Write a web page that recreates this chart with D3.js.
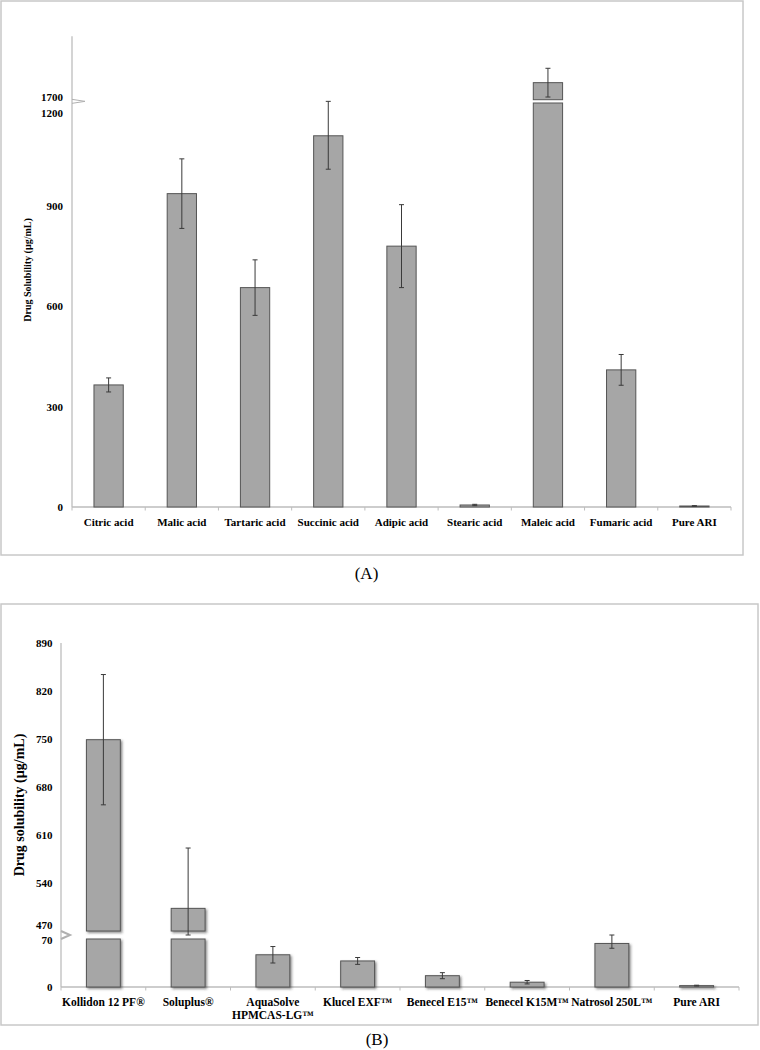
<!DOCTYPE html>
<html>
<head>
<meta charset="utf-8">
<script src="https://cdn.jsdelivr.net/npm/d3@7"></script>
<style>
  body { margin: 0; background: #fff; }
  svg { display: block; }
  text { font-family: "Liberation Serif", "Times New Roman", serif; }
</style>
</head>
<body>
<svg id="chart" width="760" height="1050"></svg>
<script>
// ---------- Data: panel A ----------
const categoriesA = ["Citric acid", "Malic acid", "Tartaric acid", "Succinic acid", "Adipic acid", "Stearic acid", "Maleic acid", "Fumaric acid", "Pure ARI"];
const valuesA = [365, 937, 656, 1110, 780, 6, 1741, 410, 3];
const errorsA = [21, 104, 83, 100, 124, 2, 43, 46, 1];
const tickLabelsA = [0, 300, 600, 900, 1200, 1700];

// ---------- Data: panel B ----------
const categoriesB = ["Kollidon 12 PF®", "Soluplus®", "AquaSolve\nHPMCAS-LG™", "Klucel EXF™", "Benecel E15™", "Benecel K15M™", "Natrosol 250L™", "Pure ARI"];
const valuesB = [749, 503, 47, 38, 16.5, 7, 63.5, 2];
const errorsB = [95, 88, 12, 5, 4.4, 2.5, 7, 0.6];
const tickLabelsB = [0, 70, 470, 540, 610, 680, 750, 820, 890];

const svg = d3.select("#chart");

const defs = svg.append("defs");
const f = defs.append("filter").attr("id", "shadow").attr("x", "-20%").attr("y", "-20%").attr("width", "150%").attr("height", "150%");
f.append("feDropShadow").attr("dx", 1.5).attr("dy", 1.5).attr("stdDeviation", 1)
  .attr("flood-color", "#333").attr("flood-opacity", 0.55);

function drawPanel(cfg) {
  const g = svg.append("g");
  // frame
  g.append("rect").attr("x", cfg.frame[0]).attr("y", cfg.frame[1])
    .attr("width", cfg.frame[2]).attr("height", cfg.frame[3])
    .attr("fill", "#fff").attr("stroke", "#c8c8c8").attr("stroke-width", 1.5);

  const x = d3.scaleBand().domain(cfg.cats).range(cfg.xRange).paddingInner(0).paddingOuter(0);
  const bw = x.bandwidth() * cfg.barRatio;
  const yLow = d3.scaleLinear().domain(cfg.lowDomain).range(cfg.lowRange);
  const yUp = d3.scaleLinear().domain(cfg.upDomain).range(cfg.upRange);
  const lowMax = cfg.lowDomain[1], upMin = cfg.upDomain[0];
  const breakMid = (cfg.lowRange[1] + cfg.upRange[0]) / 2;
  const yOf = v => v <= lowMax ? yLow(v) : (v >= upMin ? yUp(v) : breakMid);

  const x0 = cfg.xRange[0], x1 = cfg.xRange[1];
  const base = yLow(0);

  // y axis line
  g.append("line").attr("x1", x0).attr("x2", x0).attr("y1", base).attr("y2", yUp(cfg.upDomain[1]))
    .attr("stroke", "#bdbdbd").attr("stroke-width", 1.3);
  // break mark
  g.append("path").attr("d", cfg.breakPath(x0, breakMid))
    .attr("fill", "none").attr("stroke", "#b0b0b0").attr("stroke-width", cfg.breakWidth);

  // x axis line + boundary ticks
  g.append("line").attr("x1", x0).attr("x2", x1).attr("y1", base).attr("y2", base)
    .attr("stroke", "#bdbdbd").attr("stroke-width", 1.3);
  const bounds = cfg.cats.map(c => x(c)).concat([x1]);
  g.selectAll(".bt").data(bounds).join("line")
    .attr("x1", d => d).attr("x2", d => d).attr("y1", base).attr("y2", base + 3.5)
    .attr("stroke", "#bdbdbd").attr("stroke-width", 1);

  // bars
  const barG = g.append("g").attr("filter", cfg.shadow ? "url(#shadow)" : null);
  cfg.vals.forEach((v, i) => {
    const cx = x(cfg.cats[i]) + x.bandwidth() / 2;
    const segs = v <= lowMax ? [[yLow(v), base]] : [[yLow(lowMax), base], [yUp(v), yUp(upMin)]];
    segs.forEach(s => {
      barG.append("rect").attr("x", cx - bw / 2).attr("y", s[0]).attr("width", bw)
        .attr("height", Math.max(0.8, s[1] - s[0]))
        .attr("fill", "#a6a6a6").attr("stroke", "#555").attr("stroke-width", 1);
    });
  });

  // error bars
  cfg.vals.forEach((v, i) => {
    const cx = x(cfg.cats[i]) + x.bandwidth() / 2;
    const e = cfg.errs[i];
    const yt = yOf(v + e), yb = yOf(v - e);
    const eg = g.append("g").attr("stroke", "#3a3a3a").attr("stroke-width", 1);
    eg.append("line").attr("x1", cx).attr("x2", cx).attr("y1", yt).attr("y2", yb);
    eg.append("line").attr("x1", cx - 2.5).attr("x2", cx + 2.5).attr("y1", yt).attr("y2", yt);
    eg.append("line").attr("x1", cx - 2.5).attr("x2", cx + 2.5).attr("y1", yb).attr("y2", yb);
  });

  // y tick labels
  const yt = g.append("g");
  cfg.ticks.forEach(t => {
    const y = (t <= lowMax ? yLow(t) : yUp(t)) + (cfg.labelShift[t] || 0);
    yt.append("text").attr("x", x0 - cfg.tickGap).attr("y", y).attr("dy", "0.35em")
      .attr("text-anchor", "end").attr("font-weight", "bold").attr("font-size", cfg.tickFont)
      .attr("fill", "#000").text(t);
  });

  // x labels
  cfg.cats.forEach(c => {
    const cx = x(c) + x.bandwidth() / 2;
    const lines = c.split("\n");
    const t = g.append("text").attr("x", cx).attr("y", base + cfg.labelOffset)
      .attr("text-anchor", "middle").attr("font-weight", "bold").attr("font-size", cfg.labelFont).attr("fill", "#000");
    lines.forEach((ln, k) => {
      t.append("tspan").attr("x", cx).attr("dy", k === 0 ? 0 : cfg.lineHeight).text(ln);
    });
  });

  // y title
  g.append("text").attr("transform", `translate(${cfg.titlePos[0]},${cfg.titlePos[1]}) rotate(-90)`)
    .attr("text-anchor", "middle").attr("dy", "0.35em").attr("font-weight", "bold")
    .attr("font-size", cfg.titleFont).attr("fill", "#000").text(cfg.title);

  // panel letter
  svg.append("text").attr("x", cfg.letterPos[0]).attr("y", cfg.letterPos[1]).attr("dy", "0.35em")
    .attr("text-anchor", "middle").attr("font-size", 17).attr("fill", "#000").text(cfg.letter);
}

drawPanel({
  frame: [1, 1, 742, 554],
  cats: categoriesA, vals: valuesA, errs: errorsA, ticks: tickLabelsA,
  xRange: [72, 731], barRatio: 0.4,
  lowDomain: [0, 1208], lowRange: [507, 103],
  upDomain: [1690, 1880], upRange: [99.7, 36.2],
  labelShift: {1200: 7, 1700: 1},
  breakPath: (x, y) => `M${x},${y - 2}L${x + 13},${y}L${x},${y + 2}`, breakWidth: 1,
  tickGap: 9, tickFont: 11, labelFont: 11, labelOffset: 18.5, lineHeight: 12.7,
  shadow: false,
  title: "Drug Solubility (µg/mL)", titlePos: [27, 270], titleFont: 10,
  letter: "(A)", letterPos: [366.5, 573]
});

drawPanel({
  frame: [1, 604, 757, 421],
  cats: categoriesB, vals: valuesB, errs: errorsB, ticks: tickLabelsB,
  xRange: [61, 739], barRatio: 0.4,
  lowDomain: [0, 70], lowRange: [987, 939],
  upDomain: [470, 890], upRange: [931, 643],
  labelShift: {470: -6, 70: 1},
  breakPath: (x, y) => `M${x},${y - 4}L${x + 9},${y}L${x},${y + 4}`, breakWidth: 2,
  tickGap: 8.5, tickFont: 11, labelFont: 11.5, labelOffset: 19, lineHeight: 12.7,
  shadow: true,
  title: "Drug solubility (µg/mL)", titlePos: [19, 805], titleFont: 14,
  letter: "(B)", letterPos: [377, 1039]
});
</script>
</body>
</html>
